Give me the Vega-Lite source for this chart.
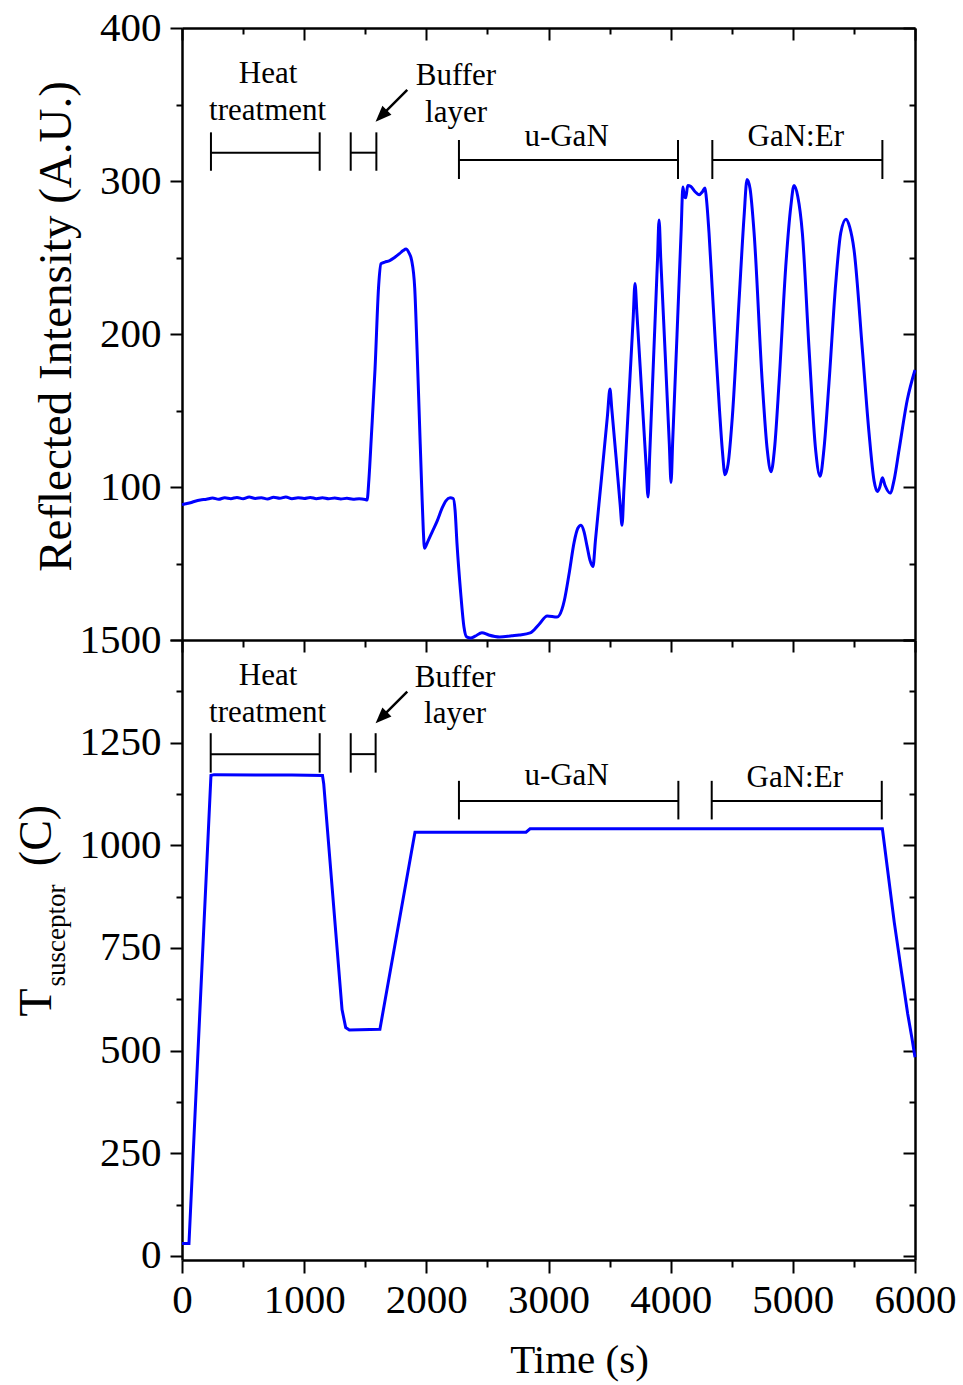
{
  "$schema": "https://vega.github.io/schema/vega-lite/v6.json",
  "padding": {"left": 13, "top": 7, "right": 5, "bottom": 5},
  "spacing": 0,
  "bounds": "flush",
  "config": {
    "view": {"stroke": null},
    "axis": {
      "labelFont": "Liberation Serif", "titleFont": "Liberation Serif",
      "labelFontSize": 41, "labelColor": "#000", "titleColor": "#000",
      "titleFontWeight": "normal", "domainColor": "#000", "tickColor": "#000",
      "domainWidth": 2.5, "tickWidth": 2, "grid": false,
      "labelOverlap": false, "labelFlush": false, "labelBound": false
    },
    "text": {"font": "Liberation Serif"}
  },
  "datasets": {
    "refl": [
      {"t":0,"v":88.5},{"t":30,"v":89},{"t":60,"v":89.5},{"t":100,"v":90.5},{"t":150,"v":91.5},{"t":200,"v":92},{"t":250,"v":92.8},{"t":300,"v":92},{"t":350,"v":93},{"t":400,"v":92.4},{"t":450,"v":93.2},{"t":500,"v":92.3},{"t":550,"v":93.4},{"t":600,"v":92.5},{"t":650,"v":93},{"t":700,"v":92.2},{"t":750,"v":93.3},{"t":800,"v":92.6},{"t":850,"v":93.5},{"t":900,"v":92.4},{"t":950,"v":93},{"t":1000,"v":92.5},{"t":1050,"v":93.2},{"t":1100,"v":92.4},{"t":1150,"v":93},{"t":1200,"v":92.3},{"t":1250,"v":92.8},{"t":1300,"v":92.2},{"t":1350,"v":92.6},{"t":1400,"v":92},{"t":1450,"v":92.3},{"t":1500,"v":91.8},{"t":1515,"v":91.5},
      {"t":1530,"v":105},{"t":1550,"v":133},{"t":1580,"v":177},{"t":1610,"v":232},{"t":1629,"v":246},{"t":1660,"v":247},{"t":1700,"v":248},{"t":1740,"v":250},{"t":1780,"v":252.5},{"t":1810,"v":254.5},{"t":1834,"v":255.5},{"t":1855,"v":253.5},{"t":1880,"v":248},{"t":1905,"v":230},{"t":1924,"v":190},{"t":1945,"v":140},{"t":1962,"v":100},{"t":1975,"v":72},{"t":1985,"v":60},
      {"t":2010,"v":64},{"t":2050,"v":71},{"t":2090,"v":78},{"t":2128,"v":86},{"t":2160,"v":91},{"t":2195,"v":93},{"t":2220,"v":92.5},{"t":2235,"v":85},{"t":2251,"v":63},{"t":2281,"v":31},{"t":2308,"v":8.5},{"t":2330,"v":2},{"t":2363,"v":1.3},{"t":2400,"v":2.5},{"t":2455,"v":4.8},{"t":2510,"v":3.3},{"t":2600,"v":2},{"t":2700,"v":2.8},{"t":2760,"v":3.3},{"t":2850,"v":4.6},{"t":2920,"v":10},{"t":2990,"v":15.7},{"t":3070,"v":15},
      {"t":3110,"v":20},{"t":3130,"v":26},{"t":3170,"v":44},{"t":3210,"v":64},{"t":3240,"v":73},{"t":3266,"v":75},{"t":3290,"v":71},{"t":3315,"v":61.5},{"t":3340,"v":52},{"t":3364,"v":48},
      {"t":3384,"v":65},{"t":3434,"v":106},{"t":3483,"v":147},{"t":3503,"v":164},{"t":3518,"v":151},{"t":3553,"v":119.5},{"t":3587,"v":88},{"t":3602,"v":75},
      {"t":3617,"v":98},{"t":3655,"v":154},{"t":3693,"v":210},{"t":3708,"v":233},{"t":3724,"v":213},{"t":3762,"v":163},{"t":3799,"v":114},{"t":3815,"v":93.5},
      {"t":3828,"v":120},{"t":3860,"v":184},{"t":3892,"v":248},{"t":3905,"v":274.5},{"t":3919,"v":249},{"t":3954,"v":189},{"t":3989,"v":128},{"t":4003,"v":103},
      {"t":4017,"v":131},{"t":4052,"v":199.5},{"t":4086,"v":268},{"t":4100,"v":296},{"t":4112,"v":290},{"t":4123,"v":289},{"t":4140,"v":297},{"t":4164,"v":296.5},{"t":4200,"v":293},{"t":4232,"v":291},{"t":4260,"v":293},{"t":4281,"v":295.5},{"t":4292,"v":289},
      {"t":4314,"v":266},{"t":4340,"v":230},{"t":4369,"v":190},{"t":4400,"v":150},{"t":4423,"v":124},{"t":4445,"v":108},
      {"t":4470,"v":115},{"t":4505,"v":146},{"t":4560,"v":222},{"t":4601,"v":277},{"t":4625,"v":301},
      {"t":4650,"v":295},{"t":4683,"v":266},{"t":4750,"v":168},{"t":4791,"v":124},{"t":4822,"v":110},
      {"t":4850,"v":125},{"t":4887,"v":168},{"t":4942,"v":244},{"t":4983,"v":283},{"t":5010,"v":297},
      {"t":5040,"v":290},{"t":5078,"v":266},{"t":5133,"v":190},{"t":5187,"v":124},{"t":5223,"v":107},
      {"t":5255,"v":125},{"t":5296,"v":168},{"t":5351,"v":233},{"t":5392,"v":266},{"t":5435,"v":275},
      {"t":5465,"v":270},{"t":5501,"v":255},{"t":5569,"v":190},{"t":5624,"v":135},{"t":5665,"v":104},{"t":5692,"v":97},
      {"t":5712,"v":100},{"t":5733,"v":106},{"t":5755,"v":101},{"t":5796,"v":96},{"t":5830,"v":105},{"t":5869,"v":124},{"t":5937,"v":157},{"t":6000,"v":176.5}
    ],
    "temp": [
      {"t":0,"v":30},{"t":57,"v":30},{"t":237,"v":1170},{"t":262,"v":1172},{"t":600,"v":1171},{"t":900,"v":1171},{"t":1150,"v":1170},{"t":1160,"v":1150},{"t":1310,"v":600},{"t":1340,"v":556},{"t":1370,"v":550},{"t":1620,"v":552},{"t":1907,"v":1032},{"t":2816,"v":1032},{"t":2849,"v":1040},{"t":5733,"v":1040},{"t":5774,"v":944},{"t":5830,"v":813},{"t":5890,"v":690},{"t":5940,"v":590},{"t":5975,"v":530},{"t":6000,"v":484}
    ],
    "br_top": [
      {"x1":237,"x2":1127,"y":318.5},{"x1":1381,"x2":1591,"y":318.5},{"x1":2267,"x2":4060,"y":313.7},{"x1":4341,"x2":5733,"y":313.7}
    ],
    "caps_top": [
      {"x":237,"y1":306.7,"y2":331.8},{"x":1127,"y1":306.7,"y2":331.8},{"x":1381,"y1":306.7,"y2":331.8},{"x":1591,"y1":306.7,"y2":331.8},
      {"x":2267,"y1":301.3,"y2":326.8},{"x":4060,"y1":301.3,"y2":326.8},{"x":4341,"y1":301.3,"y2":326.8},{"x":5733,"y1":301.3,"y2":326.8}
    ],
    "lab_top": [
      {"x":704,"y":364.1,"text":"Heat"},{"x":701,"y":339.9,"text":"treatment"},{"x":2243,"y":362.7,"text":"Buffer"},{"x":2243,"y":338.8,"text":"layer"},{"x":3148,"y":323.1,"text":"u-GaN"},{"x":5024,"y":323.1,"text":"GaN:Er"}
    ],
    "arrow_top": [{"x1":1844,"y1":359.5,"x2":1631,"y2":342.5}],
    "head_top": [{"x":1631,"y":342.5}],
    "br_bot": [
      {"x1":235,"x2":1127,"y":1222},{"x1":1381,"x2":1585,"y":1222},{"x1":2267,"x2":4063,"y":1108},{"x1":4336,"x2":5728,"y":1108}
    ],
    "caps_bot": [
      {"x":235,"y1":1177,"y2":1273},{"x":1127,"y1":1177,"y2":1273},{"x":1381,"y1":1177,"y2":1273},{"x":1585,"y1":1177,"y2":1273},
      {"x":2267,"y1":1063,"y2":1157},{"x":4063,"y1":1063,"y2":1157},{"x":4336,"y1":1063,"y2":1157},{"x":5728,"y1":1063,"y2":1157}
    ],
    "lab_bot": [
      {"x":704,"y":1390,"text":"Heat"},{"x":701,"y":1301,"text":"treatment"},{"x":2235,"y":1386,"text":"Buffer"},{"x":2235,"y":1297,"text":"layer"},{"x":3148,"y":1147,"text":"u-GaN"},{"x":5016,"y":1143,"text":"GaN:Er"}
    ],
    "arrow_bot": [{"x1":1844,"y1":1374,"x2":1631,"y2":1311}],
    "head_bot": [{"x":1631,"y":1311}]
  },
  "vconcat": [
    {
      "width": 733,
      "height": 612,
      "resolve": {"axis": {"x": "independent", "y": "independent"}},
      "layer": [
        {
          "data": {"name": "refl"},
          "mark": {"type": "line", "color": "#0000ff", "strokeWidth": 3, "interpolate": "monotone"},
          "encoding": {
            "x": {"field": "t", "type": "quantitative", "scale": {"domain": [0, 6000], "nice": false, "zero": false},
                  "axis": {"orient": "bottom", "values": [0,1000,2000,3000,4000,5000,6000], "labels": false, "title": null, "tickSize": 12}},
            "y": {"field": "v", "type": "quantitative", "scale": {"domain": [0, 400], "nice": false},
                  "axis": {"orient": "left", "values": [0,100,200,300,400], "format": "d", "labelExpr": "datum.value == 0 ? '' : datum.label", "tickSize": 12, "labelPadding": 9,
                           "title": "Reflected Intensity (A.U.)", "titleFontSize": 47, "titleX": -112, "titleY": 298, "titleAngle": 270, "titleBaseline": "alphabetic", "titleAlign": "center"}}
          }
        },
        {
          "data": {"name": "br_top"},
          "mark": {"type": "rule", "color": "#000", "strokeWidth": 2},
          "encoding": {
            "x": {"field": "x1", "type": "quantitative", "scale": {"domain": [0, 6000], "nice": false, "zero": false},
                  "axis": {"orient": "bottom", "values": [500,1500,2500,3500,4500,5500], "labels": false, "title": null, "tickSize": 7, "domain": false}},
            "x2": {"field": "x2"},
            "y": {"field": "y", "type": "quantitative", "scale": {"domain": [0, 400], "nice": false},
                  "axis": {"orient": "left", "values": [50,150,250,350], "labels": false, "title": null, "tickSize": 6, "domain": false}}
          }
        },
        {
          "data": {"name": "caps_top"},
          "mark": {"type": "rule", "color": "#000", "strokeWidth": 2},
          "encoding": {
            "x": {"field": "x", "type": "quantitative", "scale": {"domain": [0, 6000], "nice": false, "zero": false},
                  "axis": {"orient": "top", "values": [0,1000,2000,3000,4000,5000,6000], "labels": false, "title": null, "tickSize": -12}},
            "y": {"field": "y1", "type": "quantitative", "scale": {"domain": [0, 400], "nice": false},
                  "axis": {"orient": "right", "values": [0,100,200,300,400], "labels": false, "title": null, "tickSize": -12}},
            "y2": {"field": "y2"}
          }
        },
        {
          "data": {"name": "lab_top"},
          "mark": {"type": "text", "fontSize": 31, "font": "Liberation Serif", "baseline": "alphabetic", "align": "center", "color": "#000"},
          "encoding": {
            "x": {"field": "x", "type": "quantitative", "scale": {"domain": [0, 6000], "nice": false, "zero": false},
                  "axis": {"orient": "top", "values": [500,1500,2500,3500,4500,5500], "labels": false, "title": null, "tickSize": -6, "domain": false}},
            "y": {"field": "y", "type": "quantitative", "scale": {"domain": [0, 400], "nice": false},
                  "axis": {"orient": "right", "values": [50,150,250,350], "labels": false, "title": null, "tickSize": -6, "domain": false}},
            "text": {"field": "text"}
          }
        },
        {
          "data": {"name": "arrow_top"},
          "mark": {"type": "rule", "color": "#000", "strokeWidth": 2.5},
          "encoding": {
            "x": {"field": "x1", "type": "quantitative", "scale": {"domain": [0, 6000], "nice": false, "zero": false}, "axis": null},
            "x2": {"field": "x2"},
            "y": {"field": "y1", "type": "quantitative", "scale": {"domain": [0, 400], "nice": false}, "axis": null},
            "y2": {"field": "y2"}
          }
        },
        {
          "data": {"name": "head_top"},
          "mark": {"type": "point", "shape": "M0,-1L0.8,1L-0.8,1Z", "filled": true, "size": 256, "angle": 225, "color": "#000", "opacity": 1},
          "encoding": {
            "x": {"field": "x", "type": "quantitative", "scale": {"domain": [0, 6000], "nice": false, "zero": false}, "axis": null},
            "y": {"field": "y", "type": "quantitative", "scale": {"domain": [0, 400], "nice": false}, "axis": null}
          }
        }
      ]
    },
    {
      "width": 733,
      "height": 620,
      "resolve": {"axis": {"x": "independent", "y": "independent"}},
      "layer": [
        {
          "data": {"name": "temp"},
          "mark": {"type": "line", "color": "#0000ff", "strokeWidth": 3},
          "encoding": {
            "x": {"field": "t", "type": "quantitative", "scale": {"domain": [0, 6000], "nice": false, "zero": false},
                  "axis": {"orient": "bottom", "values": [0,1000,2000,3000,4000,5000,6000], "format": "d", "tickSize": 13, "labelPadding": 7,
                           "title": "Time (s)", "titleFontSize": 41, "titleX": 397, "titleY": 112, "titleBaseline": "alphabetic", "titleAlign": "center"}},
            "y": {"field": "v", "type": "quantitative", "scale": {"domain": [-10, 1500], "nice": false, "zero": false},
                  "axis": {"orient": "left", "values": [0,250,500,750,1000,1250,1500], "format": "d", "tickSize": 12, "labelPadding": 9,
                           "title": "T", "titleFontSize": 46, "titleX": -132, "titleY": 362, "titleAngle": 270, "titleBaseline": "alphabetic", "titleAlign": "center"}}
          }
        },
        {
          "data": {"name": "br_bot"},
          "mark": {"type": "rule", "color": "#000", "strokeWidth": 2},
          "encoding": {
            "x": {"field": "x1", "type": "quantitative", "scale": {"domain": [0, 6000], "nice": false, "zero": false},
                  "axis": {"orient": "bottom", "values": [500,1500,2500,3500,4500,5500], "labels": false, "title": null, "tickSize": 7, "domain": false}},
            "x2": {"field": "x2"},
            "y": {"field": "y", "type": "quantitative", "scale": {"domain": [-10, 1500], "nice": false, "zero": false},
                  "axis": {"orient": "left", "values": [125,375,625,875,1125,1375], "labels": false, "title": null, "tickSize": 6, "domain": false}}
          }
        },
        {
          "data": {"name": "caps_bot"},
          "mark": {"type": "rule", "color": "#000", "strokeWidth": 2},
          "encoding": {
            "x": {"field": "x", "type": "quantitative", "scale": {"domain": [0, 6000], "nice": false, "zero": false}, "axis": null},
            "y": {"field": "y1", "type": "quantitative", "scale": {"domain": [-10, 1500], "nice": false, "zero": false},
                  "axis": {"orient": "right", "values": [0,250,500,750,1000,1250,1500], "labels": false, "title": null, "tickSize": -12}},
            "y2": {"field": "y2"}
          }
        },
        {
          "data": {"name": "lab_bot"},
          "mark": {"type": "text", "fontSize": 31, "font": "Liberation Serif", "baseline": "alphabetic", "align": "center", "color": "#000"},
          "encoding": {
            "x": {"field": "x", "type": "quantitative", "scale": {"domain": [0, 6000], "nice": false, "zero": false}, "axis": null},
            "y": {"field": "y", "type": "quantitative", "scale": {"domain": [-10, 1500], "nice": false, "zero": false},
                  "axis": {"orient": "right", "values": [125,375,625,875,1125,1375], "labels": false, "title": null, "tickSize": -6, "domain": false}},
            "text": {"field": "text"}
          }
        },
        {
          "data": {"name": "arrow_bot"},
          "mark": {"type": "rule", "color": "#000", "strokeWidth": 2.5},
          "encoding": {
            "x": {"field": "x1", "type": "quantitative", "scale": {"domain": [0, 6000], "nice": false, "zero": false}, "axis": null},
            "x2": {"field": "x2"},
            "y": {"field": "y1", "type": "quantitative", "scale": {"domain": [-10, 1500], "nice": false, "zero": false},
                  "axis": {"orient": "left", "labels": false, "ticks": false, "domain": false, "title": "susceptor", "titleFontSize": 27,
                           "titleX": -118, "titleY": 295, "titleAngle": 270, "titleBaseline": "alphabetic", "titleAlign": "center"}},
            "y2": {"field": "y2"}
          }
        },
        {
          "data": {"name": "head_bot"},
          "mark": {"type": "point", "shape": "M0,-1L0.8,1L-0.8,1Z", "filled": true, "size": 256, "angle": 225, "color": "#000", "opacity": 1},
          "encoding": {
            "x": {"field": "x", "type": "quantitative", "scale": {"domain": [0, 6000], "nice": false, "zero": false}, "axis": null},
            "y": {"field": "y", "type": "quantitative", "scale": {"domain": [-10, 1500], "nice": false, "zero": false},
                  "axis": {"orient": "left", "labels": false, "ticks": false, "domain": false, "title": "(C)", "titleFontSize": 46,
                           "titleX": -132, "titleY": 195, "titleAngle": 270, "titleBaseline": "alphabetic", "titleAlign": "center"}}
          }
        }
      ]
    }
  ]
}
